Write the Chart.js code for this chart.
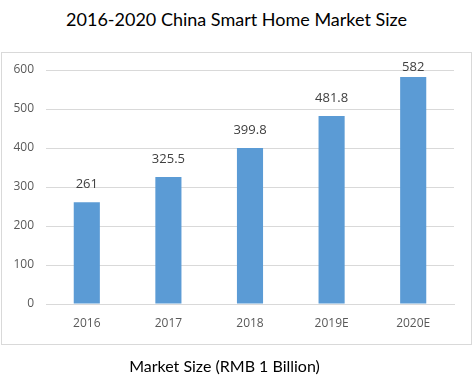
<!DOCTYPE html>
<html>
<head>
<meta charset="utf-8">
<script src="https://cdn.jsdelivr.net/npm/chart.js@4"></script>
<style>
  html, body { margin: 0; padding: 0; background: #fff; }
  #wrap { position: relative; width: 473px; height: 388px; overflow: hidden; }
  #title { position: absolute; left: 0; width: 473px; top: 8px; text-align: center;
           font: 18px Lato, sans-serif; color: #000; }
  #box { position: absolute; left: 1px; top: 52px; width: 469px; height: 291px;
         border: 1px solid #d9d9d9; }
  #sub { position: absolute; left: 0; width: 449px; top: 356px; text-align: center;
         font: 16px Lato, sans-serif; color: #000; }
  canvas { position: absolute; left: 0; top: 0; }
</style>
</head>
<body>
<div id="wrap">
  <div id="title">2016-2020 China Smart Home Market Size</div>
  <div id="box"></div>
  <canvas id="marketChart" width="473" height="388"></canvas>
  <div id="sub">Market Size (RMB 1 Billion)</div>
</div>
<script>
// DATA
const years = ["2016", "2017", "2018", "2019E", "2020E"];
const marketSize = [261, 325.5, 399.8, 481.8, 582];
const labelText = ["261", "325.5", "399.8", "481.8", "582"];

// value labels above bars
const valueLabels = {
  id: "valueLabels",
  afterDatasetsDraw(chart) {
    const ctx = chart.ctx;
    const meta = chart.getDatasetMeta(0);
    ctx.save();
    ctx.font = "13px 'Open Sans', sans-serif";
    ctx.fillStyle = "#404040";
    ctx.textAlign = "center";
    ctx.textBaseline = "middle";
    meta.data.forEach((bar, i) => {
      const y = Math.max(bar.y - 18, chart.chartArea.top - 3);
      ctx.fillText(labelText[i], bar.x, y);
    });
    ctx.restore();
  }
};

new Chart(document.getElementById("marketChart"), {
  type: "bar",
  data: {
    labels: years,
    datasets: [{
      data: marketSize,
      backgroundColor: "#5b9bd5",
      barPercentage: 0.32,
      categoryPercentage: 1
    }]
  },
  options: {
    responsive: false,
    animation: false,
    layout: { padding: { top: 70, right: 19, left: 0, bottom: 0 } },
    plugins: {
      legend: { display: false },
      tooltip: { enabled: false }
    },
    scales: {
      x: {
        grid: { display: false, drawTicks: false },
        border: { color: "#d9d9d9" },
        ticks: { color: "#595959", padding: 12, font: { size: 12, family: "'Open Sans', sans-serif" } },
        afterFit: (scale) => { scale.height = 84; }
      },
      y: {
        min: 0,
        max: 600,
        grid: { color: "#d9d9d9", drawTicks: false },
        border: { display: false },
        ticks: { stepSize: 100, color: "#595959", padding: 12, font: { size: 12, family: "'Open Sans', sans-serif" } },
        afterFit: (scale) => { scale.width = 46; }
      }
    }
  },
  plugins: [valueLabels]
});
</script>
</body>
</html>
